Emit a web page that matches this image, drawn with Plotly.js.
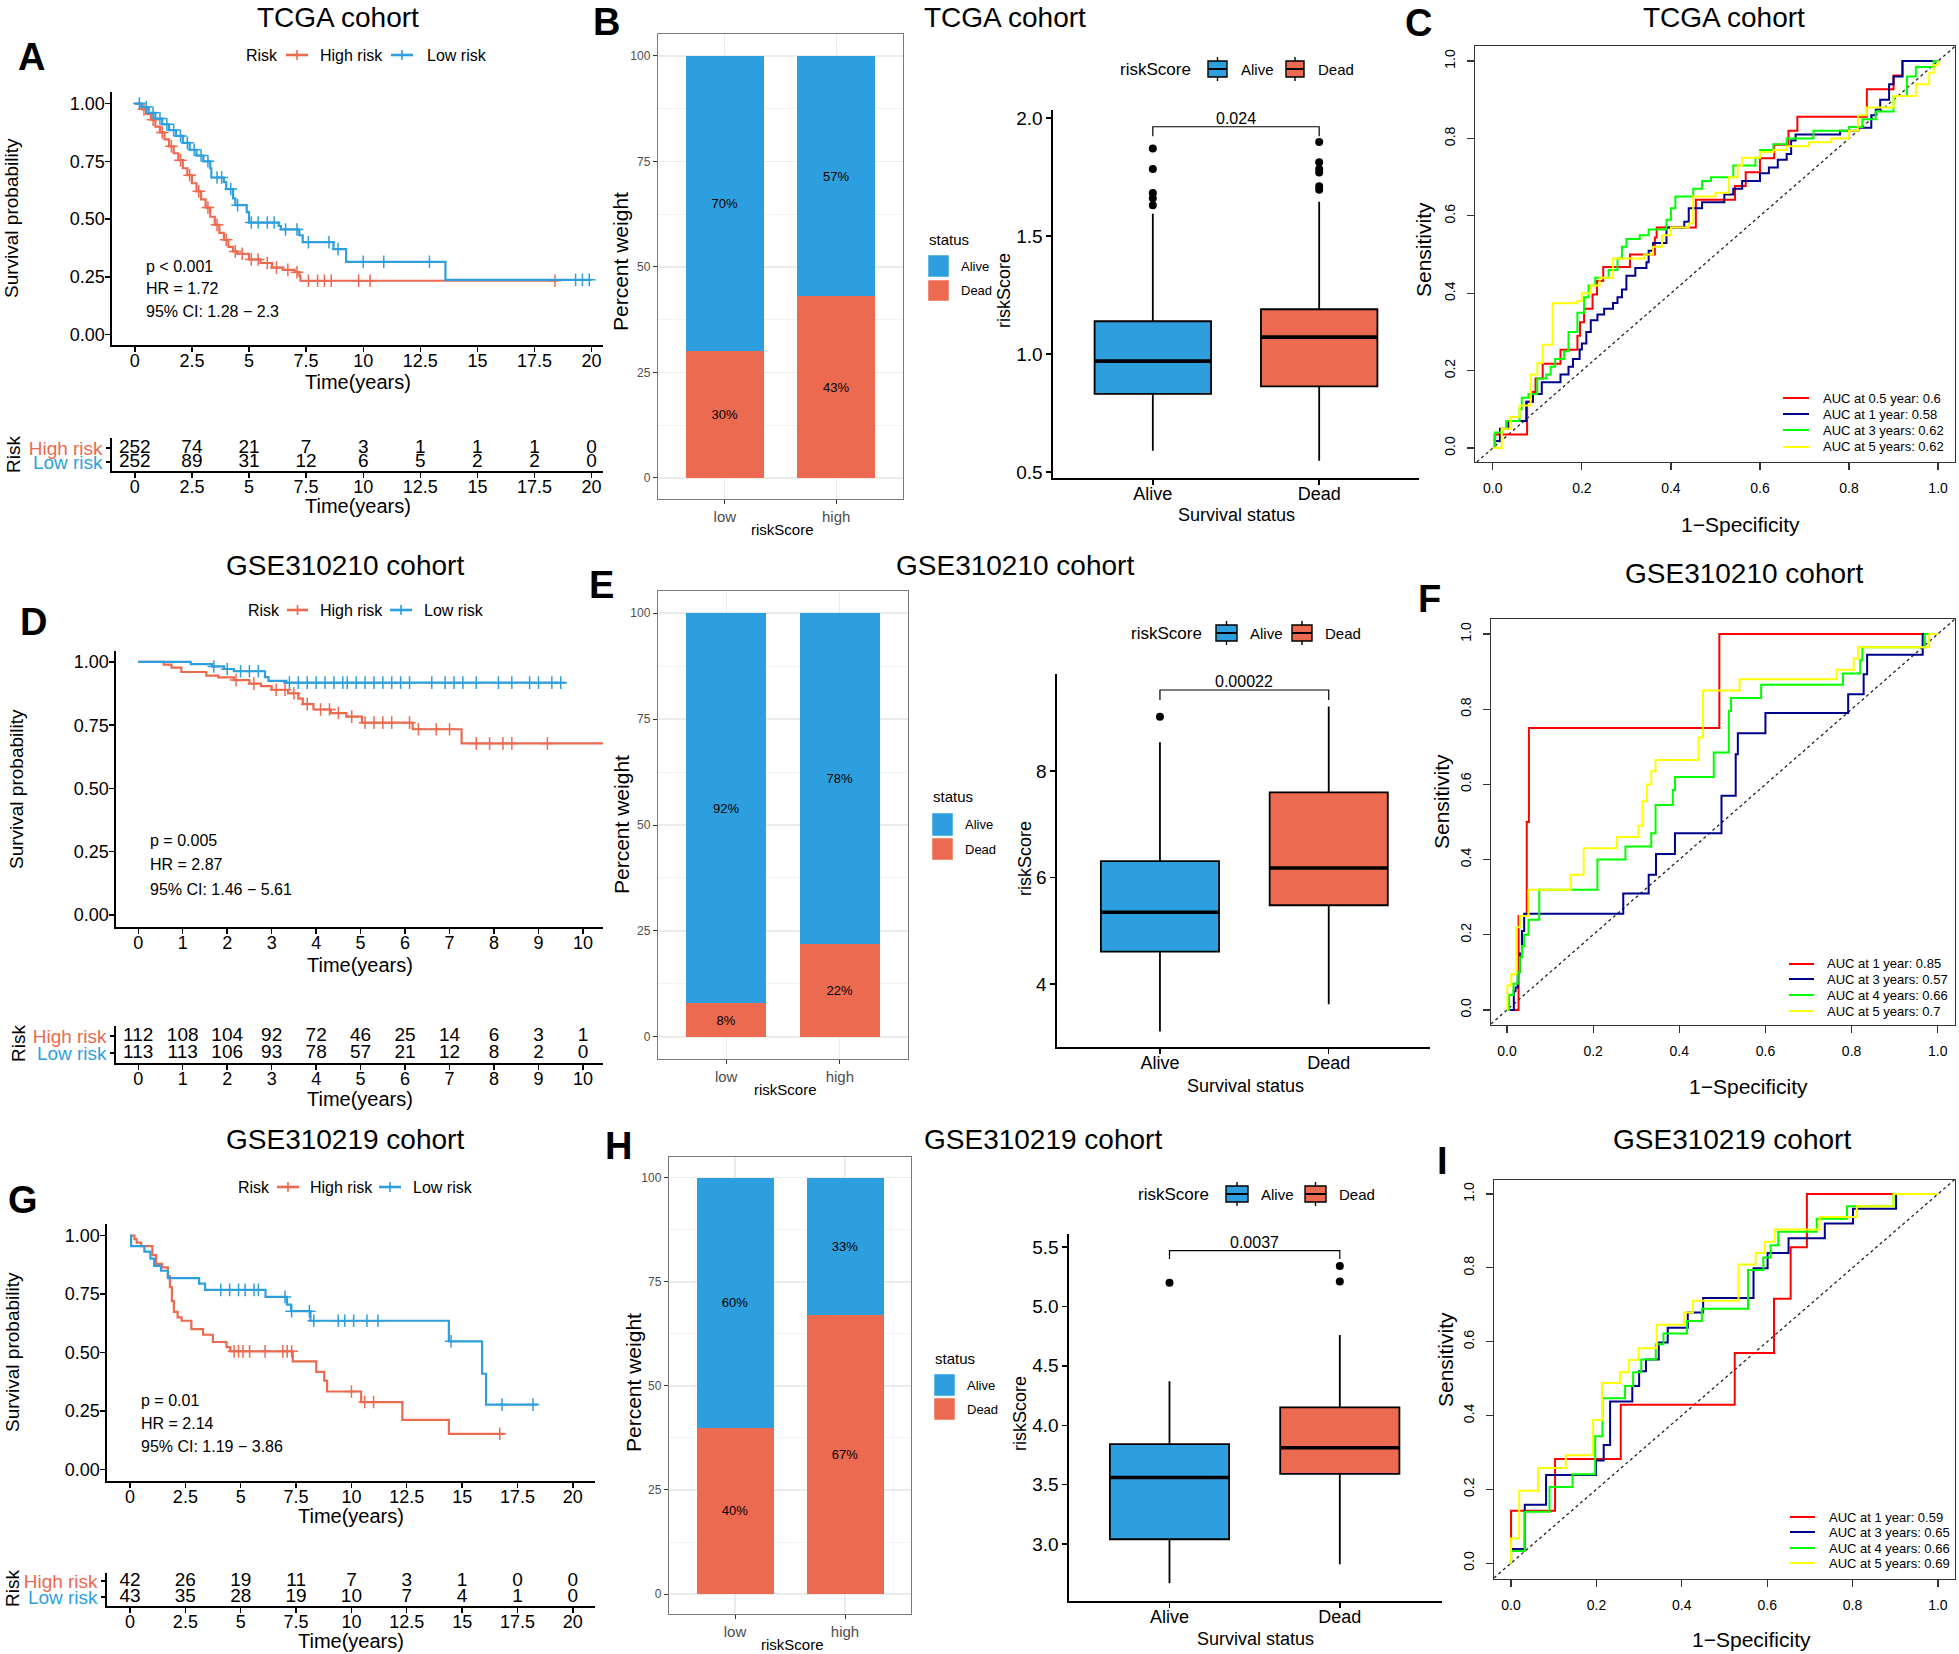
<!DOCTYPE html>
<html>
<head>
<meta charset="utf-8">
<script src="https://cdn.plot.ly/plotly-3.0.1.min.js"></script>
<style>
  html, body { margin: 0; padding: 0; background: #fff; }
  #chart { width: 1959px; height: 1654px; }
</style>
</head>
<body>
<div id="chart"></div>
<script>
// ---------- Kaplan-Meier data ----------
const tcgaTimes = [0, 2.5, 5, 7.5, 10, 12.5, 15, 17.5, 20];
const tcgaRiskHigh = [252, 74, 21, 7, 3, 1, 1, 1, 0];
const tcgaRiskLow = [252, 89, 31, 12, 6, 5, 2, 2, 0];
const tcgaHighT = [0, 0.3, 0.5, 0.7, 0.9, 1.1, 1.3, 1.5, 1.7, 1.9, 2.1, 2.3, 2.5, 2.7, 2.9, 3.1, 3.3, 3.5, 3.7, 3.9, 4.1, 4.3, 4.5, 5.0, 5.5, 6.0, 6.5, 7.0, 7.2, 7.25, 18.5];
const tcgaHighS = [1, 0.975, 0.955, 0.93, 0.9, 0.875, 0.845, 0.815, 0.785, 0.755, 0.72, 0.69, 0.655, 0.62, 0.585, 0.55, 0.51, 0.475, 0.44, 0.41, 0.38, 0.36, 0.35, 0.325, 0.31, 0.29, 0.28, 0.27, 0.255, 0.233, 0.233];
const tcgaHighCens = [0.4, 0.8, 1.2, 1.6, 2.0, 2.4, 2.8, 3.2, 3.6, 4.0, 4.4, 4.7, 5.1, 5.4, 5.8, 6.2, 6.7, 7.1, 7.6, 8.0, 8.3, 8.6, 9.8, 10.3, 18.4];
const tcgaLowT = [0, 0.3, 0.6, 0.9, 1.2, 1.5, 1.8, 2.1, 2.4, 2.7, 3.0, 3.3, 3.35, 3.9, 4.0, 4.3, 4.4, 4.9, 5.0, 6.3, 6.4, 7.2, 7.35, 8.7, 9.25, 13.6, 20.0];
const tcgaLowS = [1, 0.985, 0.96, 0.935, 0.91, 0.885, 0.86, 0.83, 0.8, 0.775, 0.75, 0.72, 0.68, 0.66, 0.63, 0.59, 0.56, 0.53, 0.485, 0.47, 0.455, 0.43, 0.40, 0.37, 0.315, 0.237, 0.237];
const tcgaLowCens = [0.2, 0.5, 0.8, 1.1, 1.4, 1.7, 2.0, 2.3, 2.6, 2.9, 3.2, 3.6, 3.8, 4.2, 4.5, 5.1, 5.4, 5.8, 6.1, 6.6, 7.1, 7.6, 8.5, 8.9, 10.0, 10.9, 12.9, 19.3, 19.6, 19.9];

const gse210Times = [0, 1, 2, 3, 4, 5, 6, 7, 8, 9, 10];
const gse210RiskHigh = [112, 108, 104, 92, 72, 46, 25, 14, 6, 3, 1];
const gse210RiskLow = [113, 113, 106, 93, 78, 57, 21, 12, 8, 2, 0];
const gse210HighT = [0, 0.57, 0.75, 0.97, 1.53, 1.8, 2.15, 2.5, 2.76, 3.0, 3.37, 3.6, 3.7, 3.94, 4.33, 4.68, 5.03, 6.17, 7.27, 10.45];
const gse210HighS = [1, 0.989, 0.977, 0.96, 0.946, 0.939, 0.928, 0.914, 0.904, 0.89, 0.876, 0.855, 0.833, 0.812, 0.798, 0.784, 0.76, 0.734, 0.678, 0.678];
const gse210HighCens = [2.2, 2.6, 3.1, 3.3, 3.5, 3.8, 4.1, 4.3, 4.5, 4.8, 5.1, 5.3, 5.5, 5.7, 6.1, 6.3, 6.7, 7.0, 7.6, 7.9, 8.2, 8.4, 9.2];
const gse210LowT = [0, 1.18, 1.66, 1.93, 2.15, 2.85, 2.93, 3.33, 9.6];
const gse210LowS = [1, 0.991, 0.982, 0.972, 0.963, 0.94, 0.925, 0.918, 0.918];
const gse210LowCens = [1.7, 2.0, 2.3, 2.5, 2.7, 3.4, 3.6, 3.8, 4.0, 4.2, 4.4, 4.6, 4.7, 4.9, 5.1, 5.3, 5.5, 5.7, 5.9, 6.1, 6.6, 6.9, 7.1, 7.3, 7.6, 8.1, 8.4, 8.8, 9.0, 9.3, 9.5];

const gse219Times = [0, 2.5, 5, 7.5, 10, 12.5, 15, 17.5, 20];
const gse219RiskHigh = [42, 26, 19, 11, 7, 3, 1, 0, 0];
const gse219RiskLow = [43, 35, 28, 19, 10, 7, 4, 1, 0];
const gse219HighT = [0, 0.2, 0.3, 0.5, 1.01, 1.18, 1.45, 1.71, 1.8, 1.89, 1.98, 2.15, 2.33, 2.77, 3.3, 3.74, 4.36, 4.53, 7.35, 8.41, 8.77, 8.9, 10.44, 12.3, 14.4, 16.9];
const gse219HighS = [1, 0.985, 0.97, 0.955, 0.917, 0.879, 0.864, 0.826, 0.78, 0.72, 0.674, 0.65, 0.636, 0.6, 0.576, 0.545, 0.523, 0.505, 0.462, 0.417, 0.38, 0.333, 0.288, 0.212, 0.152, 0.152];
const gse219HighCens = [4.7, 4.9, 5.1, 5.4, 6.1, 6.9, 7.1, 7.3, 10.0, 10.6, 11.0, 16.7];
const gse219LowT = [0, 0.05, 0.65, 0.92, 1.09, 1.4, 1.71, 3.12, 3.39, 6.12, 7.09, 7.27, 8.15, 14.4, 15.9, 16.08, 18.4];
const gse219LowS = [1, 0.955, 0.932, 0.902, 0.871, 0.85, 0.818, 0.795, 0.768, 0.738, 0.705, 0.677, 0.636, 0.548, 0.409, 0.277, 0.277];
const gse219LowCens = [4.1, 4.5, 4.9, 5.2, 5.6, 5.8, 7.0, 7.3, 8.1, 8.3, 9.4, 9.7, 10.1, 10.7, 11.2, 14.5, 16.8, 18.2];

// ---------- stacked bars (percent) ----------
const riskGroups = ['low', 'high'];
const tcgaAlivePct = [70, 57];
const tcgaDeadPct = [30, 43];
const gse210AlivePct = [92, 78];
const gse210DeadPct = [8, 22];
const gse219AlivePct = [60, 33];
const gse219DeadPct = [40, 67];

// ---------- box plots: [lower whisker, q1, median, q3, upper whisker] ----------
const statusGroups = ['Alive', 'Dead'];
const tcgaBoxAlive = [0.59, 0.831, 0.97, 1.139, 1.594];
const tcgaBoxDead = [0.548, 0.863, 1.072, 1.19, 1.645];
const tcgaOutAlive = [1.871, 1.784, 1.682, 1.66, 1.631];
const tcgaOutDead = [1.898, 1.813, 1.784, 1.769, 1.711, 1.696];
const gse210BoxAlive = [3.11, 4.61, 5.35, 6.31, 8.54];
const gse210BoxDead = [3.62, 5.48, 6.18, 7.6, 9.21];
const gse210OutAlive = [9.02];
const gse210OutDead = [];
const gse219BoxAlive = [2.67, 3.04, 3.56, 3.84, 4.37];
const gse219BoxDead = [2.83, 3.59, 3.81, 4.15, 4.76];
const gse219OutAlive = [5.2];
const gse219OutDead = [5.34, 5.21];
const boxPValues = ['0.024', '0.00022', '0.0037'];
const bracketY = [1.963, 9.52, 5.47];
const bracketDrop = [0.04, 0.19, 0.07];

// ---------- time-dependent ROC ----------
const tcgaRocLabels = ['AUC at 0.5 year: 0.6', 'AUC at 1 year: 0.58', 'AUC at 3 years: 0.62', 'AUC at 5 years: 0.62'];
const tcgaRoc05Fpr = [0, 0.004, 0.077, 0.09, 0.096, 0.112, 0.152, 0.19, 0.196, 0.205, 0.224, 0.234, 0.248, 0.308, 0.364, 0.368, 0.456, 0.544, 0.568, 0.6, 0.632, 0.664, 0.684, 0.84, 0.9, 0.92, 1];
const tcgaRoc05Tpr = [0, 0.035, 0.12, 0.145, 0.18, 0.218, 0.254, 0.29, 0.325, 0.36, 0.397, 0.432, 0.468, 0.5, 0.544, 0.57, 0.642, 0.677, 0.713, 0.749, 0.784, 0.82, 0.856, 0.927, 0.963, 1, 1];
const tcgaRoc1Fpr = [0, 0.005, 0.016, 0.035, 0.075, 0.09, 0.11, 0.152, 0.17, 0.18, 0.195, 0.2, 0.21, 0.22, 0.235, 0.25, 0.27, 0.28, 0.29, 0.3, 0.32, 0.345, 0.35, 0.36, 0.39, 0.43, 0.44, 0.47, 0.52, 0.54, 0.56, 0.6, 0.62, 0.64, 0.66, 0.67, 0.68, 0.78, 0.82, 0.85, 0.86, 0.87, 0.89, 0.9, 0.92, 1];
const tcgaRoc1Tpr = [0, 0.018, 0.05, 0.07, 0.12, 0.14, 0.17, 0.19, 0.21, 0.23, 0.255, 0.27, 0.3, 0.33, 0.345, 0.36, 0.375, 0.39, 0.41, 0.445, 0.465, 0.48, 0.51, 0.53, 0.57, 0.585, 0.62, 0.635, 0.655, 0.67, 0.69, 0.71, 0.725, 0.745, 0.76, 0.795, 0.81, 0.82, 0.828, 0.86, 0.875, 0.9, 0.94, 0.96, 1, 1];
const tcgaRoc3Fpr = [0, 0.005, 0.02, 0.03, 0.06, 0.065, 0.08, 0.1, 0.12, 0.13, 0.14, 0.16, 0.17, 0.19, 0.205, 0.215, 0.23, 0.26, 0.28, 0.29, 0.3, 0.33, 0.35, 0.39, 0.4, 0.41, 0.45, 0.47, 0.49, 0.54, 0.59, 0.6, 0.63, 0.66, 0.72, 0.8, 0.83, 0.86, 0.9, 0.93, 0.95, 0.99, 1];
const tcgaRoc3Tpr = [0, 0.04, 0.05, 0.07, 0.1, 0.13, 0.14, 0.18, 0.19, 0.21, 0.23, 0.25, 0.3, 0.35, 0.39, 0.42, 0.44, 0.46, 0.49, 0.52, 0.54, 0.55, 0.565, 0.59, 0.62, 0.65, 0.67, 0.69, 0.7, 0.73, 0.75, 0.77, 0.785, 0.8, 0.82, 0.83, 0.85, 0.87, 0.91, 0.96, 0.985, 1, 1];
const tcgaRoc5Fpr = [0, 0.02, 0.04, 0.06, 0.085, 0.1, 0.112, 0.134, 0.19, 0.2, 0.22, 0.24, 0.27, 0.27, 0.34, 0.36, 0.38, 0.4, 0.44, 0.45, 0.5, 0.53, 0.55, 0.56, 0.6, 0.63, 0.66, 0.71, 0.76, 0.8, 0.82, 0.84, 0.9, 0.95, 0.98, 0.99, 1];
const tcgaRoc5Tpr = [0, 0.05, 0.08, 0.11, 0.19, 0.22, 0.267, 0.374, 0.38, 0.4, 0.42, 0.44, 0.46, 0.49, 0.5, 0.52, 0.55, 0.57, 0.58, 0.65, 0.66, 0.7, 0.73, 0.75, 0.765, 0.77, 0.78, 0.79, 0.8, 0.82, 0.86, 0.88, 0.91, 0.94, 0.97, 0.99, 1];

const gse210RocLabels = ['AUC at 1 year: 0.85', 'AUC at 3 years: 0.57', 'AUC at 4 years: 0.66', 'AUC at 5 years: 0.7'];
const gse210Roc1Fpr = [0, 0.027, 0.046, 0.051, 0.493, 1];
const gse210Roc1Tpr = [0, 0.25, 0.5, 0.75, 1, 1];
const gse210Roc3Fpr = [0, 0.016, 0.02, 0.025, 0.03, 0.035, 0.04, 0.27, 0.329, 0.346, 0.39, 0.498, 0.531, 0.536, 0.6, 0.792, 0.828, 0.836, 0.965, 1];
const gse210Roc3Tpr = [0, 0.05, 0.06, 0.1, 0.15, 0.21, 0.256, 0.31, 0.36, 0.415, 0.47, 0.57, 0.68, 0.736, 0.79, 0.84, 0.893, 0.945, 1, 1];
const gse210Roc4Fpr = [0, 0.005, 0.015, 0.025, 0.03, 0.035, 0.04, 0.05, 0.075, 0.21, 0.275, 0.335, 0.345, 0.385, 0.39, 0.48, 0.515, 0.52, 0.59, 0.78, 0.82, 0.825, 0.97, 1];
const gse210Roc4Tpr = [0, 0.04, 0.07, 0.1, 0.14, 0.17, 0.2, 0.24, 0.32, 0.4, 0.435, 0.47, 0.545, 0.585, 0.62, 0.685, 0.795, 0.83, 0.865, 0.895, 0.93, 0.965, 1, 1];
const gse210Roc5Fpr = [0, 0.001, 0.01, 0.022, 0.03, 0.05, 0.148, 0.178, 0.255, 0.305, 0.315, 0.325, 0.335, 0.345, 0.445, 0.455, 0.54, 0.765, 0.805, 0.815, 0.98, 1];
const gse210Roc5Tpr = [0, 0.065, 0.095, 0.22, 0.25, 0.32, 0.36, 0.43, 0.46, 0.49, 0.555, 0.6, 0.635, 0.665, 0.725, 0.85, 0.88, 0.905, 0.935, 0.965, 1, 1];

const gse219RocLabels = ['AUC at 1 year: 0.59', 'AUC at 3 years: 0.65', 'AUC at 4 years: 0.66', 'AUC at 5 years: 0.69'];
const gse219Roc1Fpr = [0, 0, 0.103, 0.257, 0.524, 0.616, 0.655, 0.693, 1];
const gse219Roc1Tpr = [0, 0.142, 0.282, 0.429, 0.569, 0.716, 0.856, 1, 1];
const gse219Roc3Fpr = [0, 0, 0.032, 0.082, 0.199, 0.217, 0.232, 0.284, 0.3, 0.316, 0.346, 0.367, 0.414, 0.45, 0.568, 0.601, 0.65, 0.735, 0.801, 0.902, 1];
const gse219Roc3Tpr = [0, 0.038, 0.158, 0.239, 0.278, 0.32, 0.438, 0.48, 0.52, 0.552, 0.598, 0.638, 0.679, 0.718, 0.799, 0.84, 0.88, 0.92, 0.96, 1, 1];
const gse219Roc4Fpr = [0, 0, 0.032, 0.09, 0.144, 0.197, 0.214, 0.267, 0.286, 0.305, 0.339, 0.357, 0.412, 0.447, 0.555, 0.591, 0.608, 0.626, 0.716, 0.787, 0.896, 1];
const gse219Roc4Tpr = [0, 0.033, 0.139, 0.206, 0.241, 0.344, 0.447, 0.48, 0.517, 0.552, 0.593, 0.622, 0.656, 0.689, 0.794, 0.828, 0.861, 0.898, 0.933, 0.967, 1, 1];
const gse219Roc5Fpr = [0, 0, 0.019, 0.063, 0.128, 0.192, 0.213, 0.255, 0.276, 0.299, 0.341, 0.405, 0.426, 0.533, 0.573, 0.595, 0.618, 0.723, 0.81, 0.896, 1];
const gse219Roc5Tpr = [0, 0.067, 0.196, 0.258, 0.292, 0.388, 0.488, 0.517, 0.55, 0.582, 0.646, 0.679, 0.711, 0.809, 0.84, 0.871, 0.904, 0.938, 0.967, 1, 1];

// ---------- figure plumbing ----------
const W = 1959, H = 1654;
const FONT = '"Liberation Sans", Arial, Helvetica, sans-serif';
const RED = '#EC6A4F', BLUE = '#2E9FDE';
const ROC_COLORS = ['#FF0000', '#00008B', '#00FF00', '#FFFF00'];

const traces = [];
const annotations = [];
const shapes = [];
const layout = {
  width: W, height: H,
  margin: {l: 0, r: 0, t: 0, b: 0},
  paper_bgcolor: '#ffffff', plot_bgcolor: 'rgba(0,0,0,0)',
  showlegend: false, hovermode: false,
  barmode: 'stack', boxmode: 'overlay',
  font: {family: FONT, color: '#000'},
  annotations: annotations, shapes: shapes
};
let axisCount = 0;

function addAxes(box, xa, ya) {
  axisCount += 1;
  const id = axisCount === 1 ? '' : String(axisCount);
  layout['xaxis' + id] = Object.assign({domain: [box[0] / W, box[1] / W], anchor: 'y' + id, fixedrange: true, zeroline: false, showgrid: false}, xa);
  layout['yaxis' + id] = Object.assign({domain: [1 - box[3] / H, 1 - box[2] / H], anchor: 'x' + id, fixedrange: true, zeroline: false, showgrid: false}, ya);
  return {x: 'x' + id, y: 'y' + id};
}

function label(x, y, text, size, opts) {
  const o = opts || {};
  annotations.push({
    xref: 'paper', yref: 'paper', x: x / W, y: 1 - y / H, text: text, showarrow: false,
    xanchor: o.anchor || 'center', yanchor: 'middle', textangle: o.angle || 0,
    font: {family: FONT, size: size, color: o.color || '#000'}
  });
}

function seg(x0, y0, x1, y1, color, width) {
  shapes.push({type: 'line', xref: 'paper', yref: 'paper', x0: x0 / W, y0: 1 - y0 / H, x1: x1 / W, y1: 1 - y1 / H,
    line: {color: color, width: width}});
}

function rect(x0, y0, x1, y1, fill, lineColor, lw) {
  shapes.push({type: 'rect', xref: 'paper', yref: 'paper', x0: x0 / W, y0: 1 - y1 / H, x1: x1 / W, y1: 1 - y0 / H,
    fillcolor: fill, line: {color: lineColor, width: lw}});
}

function survAt(t, ts, ss) {
  let v = ss[0];
  for (let i = 0; i < ts.length; i++) if (ts[i] <= t) v = ss[i];
  return v;
}

// ---------- KM panel (curves + risk table) ----------
const kmAxis = {showline: true, linecolor: '#000', linewidth: 1.6, ticks: 'outside', ticklen: 5, tickwidth: 1.4,
  tickcolor: '#000', tickfont: {family: FONT, size: 18, color: '#000'}};

function kmPanel(p) {
  const tickText = p.times.map(String);
  const km = addAxes(p.kmBox,
    Object.assign({}, kmAxis, {range: p.xr, tickvals: p.times, ticktext: tickText, ticklabelstandoff: -6}),
    Object.assign({}, kmAxis, {range: p.yr, tickvals: [0, 0.25, 0.5, 0.75, 1], ticktext: ['0.00', '0.25', '0.50', '0.75', '1.00'], ticklabelstandoff: -3}));
  p.groups.forEach(g => {
    traces.push({type: 'scatter', mode: 'lines', x: g.t, y: g.s, xaxis: km.x, yaxis: km.y,
      line: {color: g.color, width: 2.2, shape: 'hv'}, hoverinfo: 'skip'});
    traces.push({type: 'scatter', mode: 'markers', x: g.cens, y: g.cens.map(c => survAt(c, g.t, g.s)),
      xaxis: km.x, yaxis: km.y, hoverinfo: 'skip',
      marker: {symbol: 'cross-thin', size: 9, color: g.color, line: {color: g.color, width: 1.5}}});
  });

  const tab = addAxes(p.tabBox,
    Object.assign({}, kmAxis, {range: p.xr, tickvals: p.times, ticktext: tickText, ticklabelstandoff: -6}),
    Object.assign({}, kmAxis, {range: p.tabYr, tickvals: [0, 1], ticklen: 4,
      ticktext: ['<span style="color:' + BLUE + '">Low risk</span>', '<span style="color:' + RED + '">High risk</span>'],
      tickfont: {family: FONT, size: 19, color: '#000'}}));
  traces.push({type: 'scatter', mode: 'text', x: p.times, y: p.times.map(() => 1), text: p.riskHigh.map(String),
    textfont: {family: FONT, size: 19, color: '#000'}, xaxis: tab.x, yaxis: tab.y, hoverinfo: 'skip', cliponaxis: false});
  traces.push({type: 'scatter', mode: 'text', x: p.times, y: p.times.map(() => 0), text: p.riskLow.map(String),
    textfont: {family: FONT, size: 19, color: '#000'}, xaxis: tab.x, yaxis: tab.y, hoverinfo: 'skip', cliponaxis: false});

  const L = p.lab;
  label(L.title[0], L.title[1], p.title, 28);
  label(L.letter[0], L.letter[1], '<b>' + p.letter + '</b>', 38);
  const ly = L.legY;
  label(L.legRisk, ly, 'Risk', 16, {anchor: 'left'});
  seg(L.leg1[0], ly, L.leg1[1], ly, RED, 2.6);
  seg((L.leg1[0] + L.leg1[1]) / 2, ly - 5, (L.leg1[0] + L.leg1[1]) / 2, ly + 5, RED, 1.6);
  label(L.leg1[2], ly, 'High risk', 16, {anchor: 'left'});
  seg(L.leg2[0], ly, L.leg2[1], ly, BLUE, 2.6);
  seg((L.leg2[0] + L.leg2[1]) / 2, ly - 5, (L.leg2[0] + L.leg2[1]) / 2, ly + 5, BLUE, 1.6);
  label(L.leg2[2], ly, 'Low risk', 16, {anchor: 'left'});
  label(L.yTitle[0], L.yTitle[1], 'Survival probability', 19, {angle: -90});
  label(L.xTitle[0], L.xTitle[1], 'Time(years)', 20);
  p.stats.forEach((s, i) => label(L.stats[0], L.stats[1][i], s, 16, {anchor: 'left'}));
  label(L.risk[0], L.risk[1], 'Risk', 19, {angle: -90});
  label(L.xTitle[0], L.tabTitle, 'Time(years)', 20);
}

// ---------- percent bar panel ----------
function barPanel(p) {
  const frame = {showline: true, mirror: true, linecolor: '#7a7a7a', linewidth: 1.2, ticks: 'outside', ticklen: 4,
    tickcolor: '#333', showgrid: true, gridcolor: '#EBEBEB', gridwidth: 1.3};
  const ax = addAxes(p.box,
    Object.assign({}, frame, {type: 'category', range: [-0.6, 1.6], tickfont: {family: FONT, size: 15, color: '#4D4D4D'}}),
    Object.assign({}, frame, {range: p.yr, tickvals: [0, 25, 50, 75, 100], tickfont: {family: FONT, size: 12, color: '#4D4D4D'},
      minor: {tickvals: [12.5, 37.5, 62.5, 87.5], showgrid: true, gridcolor: '#F3F3F3', gridwidth: 1, ticks: ''}}));
  [[p.dead, RED], [p.alive, BLUE]].forEach(([vals, col]) => {
    traces.push({type: 'bar', x: riskGroups, y: vals, xaxis: ax.x, yaxis: ax.y, width: 0.7,
      marker: {color: col, line: {width: 0}}, text: vals.map(v => v + '%'), textposition: 'inside',
      insidetextanchor: 'middle', textangle: 0, constraintext: 'none',
      textfont: {family: FONT, size: 13, color: '#000'}, hoverinfo: 'skip'});
  });
  const L = p.lab;
  label(L.title[0], L.title[1], p.title, 28);
  label(L.letter[0], L.letter[1], '<b>' + p.letter + '</b>', 38);
  label(L.yTitle[0], L.yTitle[1], 'Percent weight', 21, {angle: -90});
  label(L.xTitle[0], L.xTitle[1], 'riskScore', 15);
  label(L.status[0], L.status[1], 'status', 15, {anchor: 'left'});
  rect(L.keyX[0], L.keyA[0], L.keyX[1], L.keyA[1], BLUE, '#fff', 0.5);
  rect(L.keyX[0], L.keyD[0], L.keyX[1], L.keyD[1], RED, '#fff', 0.5);
  label(L.keyX[1] + 10, (L.keyA[0] + L.keyA[1]) / 2, 'Alive', 13, {anchor: 'left'});
  label(L.keyX[1] + 10, (L.keyD[0] + L.keyD[1]) / 2, 'Dead', 13, {anchor: 'left'});
}

// ---------- box panel ----------
function boxKey(x0, x1, y, fill) {
  const xm = (x0 + x1) / 2;
  seg(xm, y - 12, xm, y + 12, '#000', 1.4);
  rect(x0, y - 8, x1, y + 8, fill, '#000', 1.4);
  seg(x0, y, x1, y, '#000', 2);
}

function boxPanel(p) {
  const axl = {showline: true, linecolor: '#000', linewidth: 1.6, ticks: 'outside', ticklen: 5, tickwidth: 1.4, tickcolor: '#000'};
  const ax = addAxes(p.box,
    Object.assign({}, axl, {range: p.xr, tickvals: [0, 1], ticktext: statusGroups, ticklabelstandoff: -6,
      tickfont: {family: FONT, size: 18, color: '#000'}}),
    Object.assign({}, axl, {range: p.yr, tickvals: p.yticks, ticktext: p.yticks.map(v => v.toFixed(p.dec)),
      tickfont: {family: FONT, size: 19, color: '#000'}}));
  [[p.alive, p.outAlive, BLUE], [p.dead, p.outDead, RED]].forEach(([s, outs, col], i) => {
    traces.push({type: 'box', x: [i], lowerfence: [s[0]], q1: [s[1]], median: [s[2]], q3: [s[3]], upperfence: [s[4]],
      width: 0.7, whiskerwidth: 0, fillcolor: col, line: {color: '#000', width: 1.8}, boxpoints: false,
      xaxis: ax.x, yaxis: ax.y, hoverinfo: 'skip'});
    traces.push({type: 'scatter', mode: 'lines', x: [i - 0.35, i + 0.35], y: [s[2], s[2]],
      line: {color: '#000', width: 3.6}, xaxis: ax.x, yaxis: ax.y, hoverinfo: 'skip'});
    if (outs.length) {
      traces.push({type: 'scatter', mode: 'markers', x: outs.map(() => i), y: outs,
        marker: {color: '#000', size: 8}, xaxis: ax.x, yaxis: ax.y, hoverinfo: 'skip'});
    }
  });
  const by = bracketY[p.k], bd = bracketDrop[p.k];
  traces.push({type: 'scatter', mode: 'lines', x: [0, 0, 1, 1], y: [by - bd, by, by, by - bd],
    line: {color: '#000', width: 1.2}, xaxis: ax.x, yaxis: ax.y, hoverinfo: 'skip', cliponaxis: false});
  annotations.push({xref: ax.x, yref: ax.y, x: 0.5, y: by, yanchor: 'bottom', yshift: -2, text: boxPValues[p.k],
    showarrow: false, font: {family: FONT, size: 16, color: '#000'}});
  const L = p.lab;
  label(L.yTitle[0], L.yTitle[1], 'riskScore', 18, {angle: -90});
  label(L.xTitle[0], L.xTitle[1], 'Survival status', 18);
  label(L.leg[0], L.legY, 'riskScore', 17, {anchor: 'left'});
  boxKey(L.key1[0], L.key1[1], L.legY, BLUE);
  label(L.leg[1], L.legY, 'Alive', 15, {anchor: 'left'});
  boxKey(L.key2[0], L.key2[1], L.legY, RED);
  label(L.leg[2], L.legY, 'Dead', 15, {anchor: 'left'});
}

// ---------- ROC panel ----------
const rocAxis = {showline: true, mirror: true, linecolor: '#333', linewidth: 1.3, ticks: 'outside', ticklen: 7,
  tickwidth: 1.2, tickcolor: '#333', ticklabelstandoff: 6,
  tickvals: [0, 0.2, 0.4, 0.6, 0.8, 1], ticktext: ['0.0', '0.2', '0.4', '0.6', '0.8', '1.0'],
  tickfont: {family: FONT, size: 14, color: '#000'}};

function rocPanel(p) {
  const ax = addAxes(p.box, Object.assign({}, rocAxis, {range: p.xr}), Object.assign({}, rocAxis, {range: p.yr, tickangle: -90}));
  const lo = Math.max(p.xr[0], p.yr[0]), hi = Math.min(p.xr[1], p.yr[1]);
  shapes.push({type: 'line', xref: ax.x, yref: ax.y, x0: lo, y0: lo, x1: hi, y1: hi, layer: 'below',
    line: {color: '#222', width: 1.3, dash: 'dot'}});
  p.curves.forEach((c, i) => {
    traces.push({type: 'scatter', mode: 'lines', x: c[0], y: c[1], xaxis: ax.x, yaxis: ax.y,
      line: {color: ROC_COLORS[i], width: 2, shape: 'hv'}, hoverinfo: 'skip'});
  });
  const L = p.lab;
  label(L.title[0], L.title[1], p.title, 28);
  label(L.letter[0], L.letter[1], '<b>' + p.letter + '</b>', 38);
  label(L.yTitle[0], L.yTitle[1], 'Sensitivity', 21, {angle: -90});
  label(L.xTitle[0], L.xTitle[1], '1\u2212Specificity', 21);
  p.labels.forEach((t, i) => {
    seg(L.legLine[0], L.legRows[i], L.legLine[1], L.legRows[i], ROC_COLORS[i], 2);
    label(L.legText, L.legRows[i], t, 13, {anchor: 'left'});
  });
}

// ---------- row 1: TCGA ----------
kmPanel({
  title: 'TCGA cohort', letter: 'A', times: tcgaTimes, riskHigh: tcgaRiskHigh, riskLow: tcgaRiskLow,
  kmBox: [112, 603, 92, 345], tabBox: [112, 603, 438, 471], xr: [-1, 20.5], yr: [-0.045, 1.05], tabYr: [-0.64, 1.71],
  groups: [{t: tcgaHighT, s: tcgaHighS, cens: tcgaHighCens, color: RED}, {t: tcgaLowT, s: tcgaLowS, cens: tcgaLowCens, color: BLUE}],
  stats: ['p &lt; 0.001', 'HR = 1.72', '95% CI: 1.28 \u2212 2.3'],
  lab: {title: [338, 17], letter: [31, 57], legY: 55, legRisk: 244, leg1: [286, 308, 318], leg2: [391, 413, 425],
    yTitle: [12, 218], xTitle: [358, 382], stats: [144, [267, 289, 311]], risk: [14, 455], tabTitle: 506}
});
barPanel({
  title: 'TCGA cohort', letter: 'B', box: [658, 903, 34, 499], yr: [-5, 105.2], alive: tcgaAlivePct, dead: tcgaDeadPct,
  lab: {title: [1005, 17], letter: [606, 22], yTitle: [621, 262], xTitle: [782, 529], status: [927, 239],
    keyX: [928, 949], keyA: [255, 277], keyD: [280, 301]}
});
boxPanel({
  k: 0, box: [1053, 1419, 110, 478], xr: [-0.6, 1.6], yr: [0.475, 2.034], yticks: [0.5, 1, 1.5, 2], dec: 1,
  alive: tcgaBoxAlive, dead: tcgaBoxDead, outAlive: tcgaOutAlive, outDead: tcgaOutDead,
  lab: {yTitle: [1004, 291], xTitle: [1236, 515], legY: 69, leg: [1118, 1239, 1316], key1: [1208, 1227], key2: [1286, 1304]}
});
rocPanel({
  title: 'TCGA cohort', letter: 'C', box: [1475, 1955, 46, 462], xr: [-0.04, 1.038], yr: [-0.036, 1.039],
  labels: tcgaRocLabels,
  curves: [[tcgaRoc05Fpr, tcgaRoc05Tpr], [tcgaRoc1Fpr, tcgaRoc1Tpr], [tcgaRoc3Fpr, tcgaRoc3Tpr], [tcgaRoc5Fpr, tcgaRoc5Tpr]],
  lab: {title: [1724, 18], letter: [1418, 23], yTitle: [1423, 250], xTitle: [1740, 525],
    legLine: [1783, 1809], legText: 1821, legRows: [398, 414, 430, 447]}
});

// ---------- row 2: GSE310210 ----------
kmPanel({
  title: 'GSE310210 cohort', letter: 'D', times: gse210Times, riskHigh: gse210RiskHigh, riskLow: gse210RiskLow,
  kmBox: [116, 603, 651, 927], tabBox: [116, 603, 1026, 1063], xr: [-0.5, 10.45], yr: [-0.047, 1.043], tabYr: [-0.59, 1.59],
  groups: [{t: gse210HighT, s: gse210HighS, cens: gse210HighCens, color: RED}, {t: gse210LowT, s: gse210LowS, cens: gse210LowCens, color: BLUE}],
  stats: ['p = 0.005', 'HR = 2.87', '95% CI: 1.46 \u2212 5.61'],
  lab: {title: [345, 565], letter: [33, 622], legY: 610, legRisk: 246, leg1: [287, 308, 318], leg2: [390, 412, 422],
    yTitle: [16, 789], xTitle: [360, 965], stats: [148, [840, 864, 889]], risk: [18, 1044], tabTitle: 1099}
});
barPanel({
  title: 'GSE310210 cohort', letter: 'E', box: [658, 908, 591, 1059], yr: [-5.2, 105.2], alive: gse210AlivePct, dead: gse210DeadPct,
  lab: {title: [1015, 565], letter: [601, 585], yTitle: [621, 825], xTitle: [785, 1089], status: [931, 796],
    keyX: [932, 953], keyA: [813, 836], keyD: [838, 860]}
});
boxPanel({
  k: 1, box: [1057, 1430, 674, 1047], xr: [-0.61, 1.6], yr: [2.82, 9.82], yticks: [4, 6, 8], dec: 0,
  alive: gse210BoxAlive, dead: gse210BoxDead, outAlive: gse210OutAlive, outDead: gse210OutDead,
  lab: {yTitle: [1025, 859], xTitle: [1245, 1086], legY: 633, leg: [1129, 1248, 1323], key1: [1216, 1237], key2: [1292, 1312]}
});
rocPanel({
  title: 'GSE310210 cohort', letter: 'F', box: [1491, 1955, 619, 1025], xr: [-0.037, 1.04], yr: [-0.04, 1.04],
  labels: gse210RocLabels,
  curves: [[gse210Roc1Fpr, gse210Roc1Tpr], [gse210Roc3Fpr, gse210Roc3Tpr], [gse210Roc4Fpr, gse210Roc4Tpr], [gse210Roc5Fpr, gse210Roc5Tpr]],
  lab: {title: [1744, 573], letter: [1429, 599], yTitle: [1441, 802], xTitle: [1748, 1086],
    legLine: [1789, 1814], legText: 1825, legRows: [964, 979, 995, 1011]}
});

// ---------- row 3: GSE310219 ----------
kmPanel({
  title: 'GSE310219 cohort', letter: 'G', times: gse219Times, riskHigh: gse219RiskHigh, riskLow: gse219RiskLow,
  kmBox: [107, 595, 1224, 1481], tabBox: [107, 595, 1573, 1606], xr: [-1.04, 21], yr: [-0.05, 1.05], tabYr: [-0.56, 1.5],
  groups: [{t: gse219HighT, s: gse219HighS, cens: gse219HighCens, color: RED}, {t: gse219LowT, s: gse219LowS, cens: gse219LowCens, color: BLUE}],
  stats: ['p = 0.01', 'HR = 2.14', '95% CI: 1.19 \u2212 3.86'],
  lab: {title: [345, 1139], letter: [23, 1200], legY: 1187, legRisk: 236, leg1: [277, 299, 308], leg2: [379, 401, 411],
    yTitle: [12, 1352], xTitle: [351, 1516], stats: [139, [1400, 1423, 1446]], risk: [12, 1589], tabTitle: 1641}
});
barPanel({
  title: 'GSE310219 cohort', letter: 'H', box: [669, 911, 1157, 1614], yr: [-4.8, 105], alive: gse219AlivePct, dead: gse219DeadPct,
  lab: {title: [1043, 1139], letter: [618, 1146], yTitle: [633, 1383], xTitle: [792, 1644], status: [933, 1358],
    keyX: [934, 955], keyA: [1374, 1396], keyD: [1398, 1420]}
});
boxPanel({
  k: 2, box: [1069, 1442, 1234, 1601], xr: [-0.59, 1.6], yr: [2.52, 5.61], yticks: [3, 3.5, 4, 4.5, 5, 5.5], dec: 1,
  alive: gse219BoxAlive, dead: gse219BoxDead, outAlive: gse219OutAlive, outDead: gse219OutDead,
  lab: {yTitle: [1020, 1414], xTitle: [1255, 1639], legY: 1194, leg: [1136, 1259, 1337], key1: [1226, 1248], key2: [1305, 1326]}
});
rocPanel({
  title: 'GSE310219 cohort', letter: 'I', box: [1494, 1955, 1180, 1579], xr: [-0.04, 1.04], yr: [-0.043, 1.038],
  labels: gse219RocLabels,
  curves: [[gse219Roc1Fpr, gse219Roc1Tpr], [gse219Roc3Fpr, gse219Roc3Tpr], [gse219Roc4Fpr, gse219Roc4Tpr], [gse219Roc5Fpr, gse219Roc5Tpr]],
  lab: {title: [1732, 1139], letter: [1442, 1161], yTitle: [1445, 1360], xTitle: [1751, 1639],
    legLine: [1790, 1815], legText: 1827, legRows: [1517, 1532, 1548, 1563]}
});

Plotly.newPlot('chart', traces, layout, {staticPlot: true, displayModeBar: false});
</script>
</body>
</html>
